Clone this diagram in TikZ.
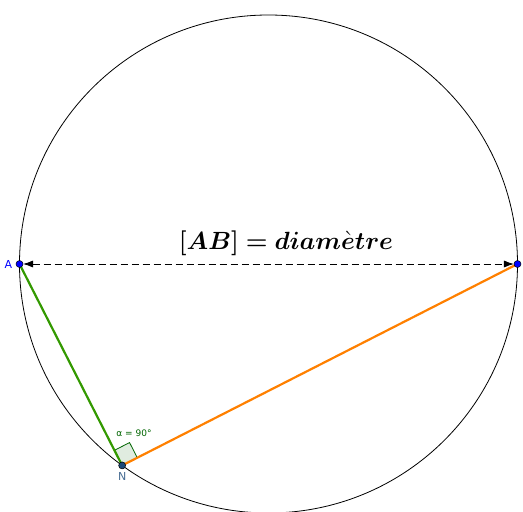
\documentclass[tikz,border=0pt]{standalone}
\usepackage{amsmath,bm}
\usepackage{fontspec}
\newfontfamily\ggbfont{DejaVu Sans}
\usetikzlibrary{arrows.meta,calc}
\definecolor{ptblue}{RGB}{0,0,255}
\definecolor{ptdark}{RGB}{26,72,120}
\definecolor{segA}{RGB}{51,153,0}
\definecolor{segB}{RGB}{255,128,0}
\definecolor{angcol}{RGB}{0,100,0}
\tikzset{
  pt/.style={circle, draw=black, line width=0.5pt, inner sep=0pt, minimum size=7pt},
  ptlabel/.style={font=\ggbfont\fontsize{11}{12}\selectfont},
}
\begin{document}
\begin{tikzpicture}[scale=3.514, >={Latex[length=10pt,width=7pt]}]
  % cercle de centre O, rayon 2.49 ; N sur le cercle a 234 degres
  \useasboundingbox (-2.685,-2.47) rectangle (2.545,2.64);
  \coordinate (O) at (0,0);
  \draw[line width=0.8pt] (O) circle (2.49);
  \coordinate (A) at (180:2.49);
  \coordinate (B) at (0:2.49);
  \coordinate (N) at (234:2.49);
  % angle droit en N
  \filldraw[draw=angcol, fill=angcol!12, line width=0.8pt]
    (N) -- ++(27:0.17) -- ++(117:0.17) -- ++(207:0.17) -- cycle;
  \node[text=angcol, font=\ggbfont\fontsize{9}{10}\selectfont] (alpha) at (-1.345,-1.69) {α = 90°};
  % segments
  \draw[segA, line width=2.2pt] (A) -- (N);
  \draw[segB, line width=2.2pt] (N) -- (B);
  \draw[<->, dashed, dash pattern=on 7pt off 4pt, line width=0.8pt] ($(A)+(0.035,0)$) -- ($(B)-(0.035,0)$);
  \node (diam) at (0.175,0.21) {\fontsize{24.5}{28}\selectfont $\bm{[AB] = diam}\bm{\grave{e}}\bm{tre}$};
  % points
  \node[pt, fill=ptblue] (pA) at (A) {};
  \node[pt, fill=ptblue] (pB) at (B) {};
  \node[pt, fill=ptdark] (pN) at (N) {};
  \node[ptlabel, text=ptblue, left=0pt] (lA) at (pA.west) {A};
  \node[ptlabel, text=ptdark!80, below=0pt] (lN) at (pN.south) {N};
\end{tikzpicture}
\end{document}
